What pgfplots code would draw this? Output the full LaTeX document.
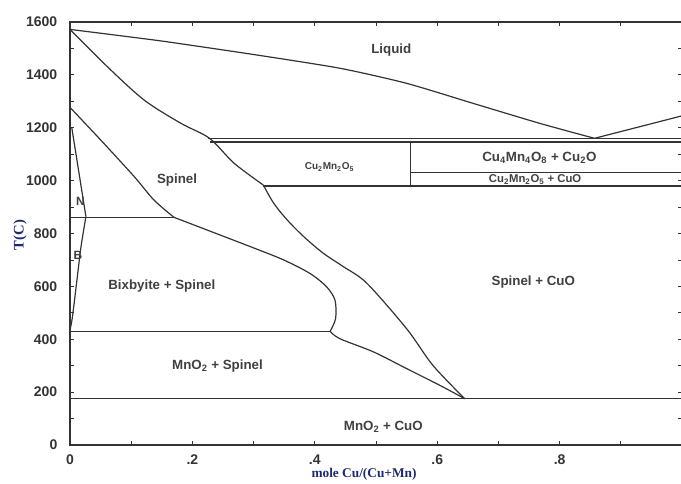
\documentclass[border=0pt]{standalone}
\usepackage{pgfplots}
\pgfplotsset{compat=1.18}
\usepackage{fontspec}
\setmainfont{Liberation Sans}
\newfontfamily\serifb{Liberation Serif}
\definecolor{ln}{HTML}{333333}
\definecolor{navy}{HTML}{1F2A6E}
\begin{document}
\begin{tikzpicture}
\path[use as bounding box] (-52.5pt,-29.25pt) rectangle (458.25pt,333.75pt);
\begin{scope}
\clip (-52.5pt,-29.25pt) rectangle (458.25pt,333.75pt);
\begin{axis}[at={(0pt,0pt)}, anchor=south west, scale only axis,
  width=459pt, height=317.25pt,
  xmin=0, xmax=1, ymin=0, ymax=1600,
  xtick={0,0.2,0.4,0.6,0.8,1}, xticklabels={0,.2,.4,.6,.8,{}},
  ytick={0,200,...,1600},
  minor x tick num=1, minor y tick num=1,
  tick align=inside, major tick length=3pt, minor tick length=3pt,
  axis line style={ln, line width=0.9pt},
  tick style={ln, line width=0.6pt},
  /pgf/number format/assume math mode=true,
  /pgf/number format/1000 sep={},
  tick label style={font=\fontsize{10.5}{12}\selectfont\bfseries, text=black!80},
  yticklabel style={xshift=-6pt},
  xticklabel style={yshift=-4pt},
  pl/.style={ln, line width=0.9pt, no marks, solid},
]
% liquidus
\addplot[pl, smooth, tension=0.4] coordinates {(0,1572)(0.103,1542)(0.159,1525)(0.3,1477)(0.441,1425)(0.55,1368)(0.659,1292)(0.767,1217)(0.857,1160)};
\addplot[pl] coordinates {(0.857,1160)(1,1245)};
% spinel upper boundary
\addplot[pl, smooth, tension=0.5] coordinates {(0,1572)(0.061,1431)(0.121,1305)(0.181,1217)(0.228,1160)(0.268,1066)(0.316,983)};
\addplot[pl, smooth, tension=0.5] coordinates {(0.316,983)(0.333,914)(0.355,851)(0.382,788)(0.414,725)(0.447,674)(0.485,612)(0.55,440)(0.593,301)(0.645,175)};
% spinel lower boundary
\addplot[pl, smooth, tension=0.5] coordinates {(0,1277)(0.05,1154)(0.105,1015)(0.137,927)(0.170,861)};
\addplot[pl, smooth, tension=0.5] coordinates {(0.170,861)(0.295,750)(0.349,700)(0.392,649)(0.419,599)(0.433,548)(0.434,478)(0.425,430)};
\addplot[pl, smooth, tension=0.5] coordinates {(0.425,430)(0.441,402)(0.496,352)(0.55,289)(0.604,226)(0.645,175)};
% N and B boundaries
\addplot[pl] coordinates {(0.003,1199)(0.026,864)};
\addplot[pl, smooth, tension=0.5] coordinates {(0.026,864)(0.018,750)(0.012,637)(0.004,485)(0,435)};
% horizontal lines
\addplot[pl] coordinates {(0.225,1158)(1,1158)};
\addplot[pl] coordinates {(0.228,1146)(1,1146)};
\addplot[pl] coordinates {(0.316,980)(1,980)};
\addplot[pl] coordinates {(0.557,1030)(1,1030)};
\addplot[pl] coordinates {(0.557,1146)(0.557,980)};
\addplot[pl] coordinates {(0,862)(0.170,862)};
\addplot[pl] coordinates {(0,430)(0.425,430)};
\addplot[pl] coordinates {(0,175)(1,175)};
% labels
\begin{scope}[every node/.style={font=\fontsize{10}{12}\selectfont\bfseries, text=black!75}]
\node at (axis cs:0.525,1494) {Liquid};
\node at (axis cs:0.175,1002) {Spinel};
\node at (axis cs:0.150,601) {Bixbyite + Spinel};
\node at (axis cs:0.757,617) {Spinel + CuO};
\node at (axis cs:0.241,299) {MnO\textsubscript{2} + Spinel};
\node at (axis cs:0.512,68) {MnO\textsubscript{2} + CuO};
\node at (axis cs:0.767,1085) {Cu\textsubscript{4}Mn\textsubscript{4}O\textsubscript{8} + Cu\textsubscript{2}O};
\node[font=\fontsize{7.5}{8}\selectfont\bfseries] at (axis cs:0.424,1052) {Cu\textsubscript{2}Mn\textsubscript{2}O\textsubscript{5}};
\node[font=\fontsize{8.5}{9}\selectfont\bfseries] at (axis cs:0.760,1003) {Cu\textsubscript{2}Mn\textsubscript{2}O\textsubscript{5} + CuO};
\node[font=\fontsize{9}{10}\selectfont\bfseries] at (axis cs:0.017,923) {N};
\node[font=\fontsize{9}{10}\selectfont\bfseries] at (axis cs:0.013,719) {B};
\end{scope}
\end{axis}
\node[anchor=north, inner sep=0.5pt, font=\serifb\bfseries\fontsize{10}{11}\selectfont, text=navy] at (220.5pt,-17pt) {mole Cu/(Cu+Mn)};
\node[rotate=90, font=\serifb\bfseries\fontsize{11}{12}\selectfont, text=navy] at (-37.5pt,157.5pt) {T(C)};
\end{scope}
\end{tikzpicture}
\end{document}
